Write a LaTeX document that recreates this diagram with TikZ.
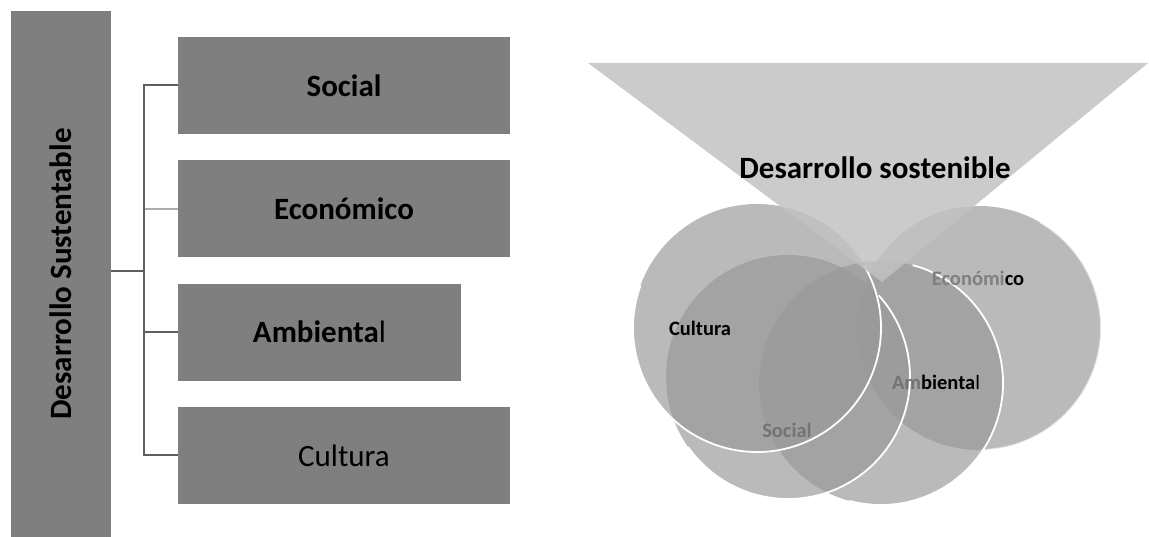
\documentclass[tikz,border=0pt]{standalone}
\usepackage{fontspec}
\setmainfont{Carlito}
\usepackage{tikz}
\definecolor{boxgray}{HTML}{7F7F7F}
\definecolor{linkgray}{HTML}{5F5F5F}
\definecolor{funnelgray}{HTML}{C2C2C2}
\definecolor{ringgray}{HTML}{999999}
\tikzstyle{pillar} = [rectangle, minimum width=526pt, minimum height=100pt, inner sep=0pt, fill=boxgray, rotate=90, font=\fontsize{31}{36}\selectfont\bfseries]
\tikzstyle{branch} = [rectangle, minimum width=332pt, minimum height=97pt, inner sep=0pt, fill=boxgray, font=\fontsize{31}{36}\selectfont]
\tikzstyle{shortbranch} = [branch, minimum width=283pt]

\begin{document}
\begin{tikzpicture}[x=1pt, y=-1pt, node distance=123.3pt]
    \tikzset{link/.style={draw=linkgray, line width=2pt},
    ring/.style={fill=ringgray, fill opacity=0.68},
    rim/.style={draw=white, line width=1.8pt},
    tag/.style={font=\fontsize{20.5}{24}\selectfont\bfseries}}
    \useasboundingbox (0,0) rectangle (1149,537);

    % tree on the left
    \node (dev) [pillar] at (61,274) {Desarrollo Sustentable};
    \node (social) [branch] at (344,85.5) {\textbf{Social}};
    \node (econ) [branch, below of=social] {\textbf{Económico}};
    \node (amb) [shortbranch, below of=econ, xshift=-24.5pt] {\textbf{Ambienta}l};
    \node (cult) [branch, below of=amb, xshift=24.5pt] {Cultura};

    \coordinate (hub) at (144,271);
    \draw[link, draw=gray!65] (hub |- econ.west) -- (econ.west);
    \draw[link] (dev.south |- hub) -- (hub);
    \draw[link] (hub) |- (social.west);
    \draw[link] (hub) |- (amb.west);
    \draw[link] (hub) |- (cult.west);

    % circles and funnel on the right
    \coordinate (cEcon) at (979,328);
    \coordinate (cCult) at (757,328);
    \coordinate (cSoc) at (788,377);
    \coordinate (cAmb) at (881,383);
    \fill[ring] (cEcon) circle[radius=122];
    \draw[rim, draw opacity=0.6] (cEcon) ++(-60:122) arc[start angle=-60, end angle=90, radius=122];
    \fill[ring] (cCult) circle[radius=124];
    \fill[ring] (cSoc) circle[radius=122];
    \fill[ring] (cAmb) circle[radius=122];
    \draw[rim] (cCult) ++(-30:124) arc[start angle=-30, end angle=200, radius=124];
    \draw[rim] (cSoc) ++(-42:122) arc[start angle=-42, end angle=145, radius=122];
    \draw[rim] (cAmb) ++(-75:122) arc[start angle=-75, end angle=105, radius=122];
    \fill[funnelgray, fill opacity=0.85] (588,63) -- (1148,63) -- (882,282) -- cycle;

    \node (title) [font=\fontsize{31}{36}\selectfont\bfseries] at (875,168) {Desarrollo sostenible};
    \node (tCult) [tag] at (700,328) {Cultura};
    \node (tSoc) [tag, text=black!55] at (787,430) {Social};
    \node (tAmb) [tag] at (936,382) {{\color{black!55}Am}bienta\textmd{l}};
    \node (tEcon) [tag] at (978,278) {{\color{black!50}Económi}co};
\end{tikzpicture}
\end{document}
